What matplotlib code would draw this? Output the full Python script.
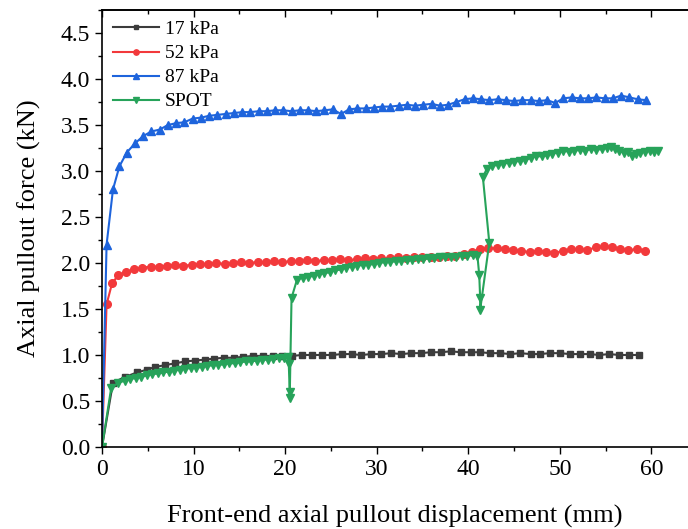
import matplotlib
matplotlib.use('Agg')
import matplotlib.pyplot as plt
from matplotlib.ticker import MultipleLocator

plt.rcParams['font.family'] = ['Liberation Serif', 'DejaVu Serif']

# 17 kPa
x17 = [0, 1.2, 2.5, 3.8, 4.9, 5.8, 6.9, 8.0, 9.1, 10.2, 11.3, 12.2, 13.3, 14.4, 15.4,
       16.5, 17.6, 18.7, 19.7, 20.8, 21.8, 22.9, 24.0, 25.1, 26.2, 27.3, 28.3, 29.4,
       30.5, 31.6, 32.7, 33.8, 34.8, 35.9, 37.0, 38.1, 39.2, 40.3, 41.3, 42.4, 43.5,
       44.6, 45.7, 46.8, 47.8, 48.9, 50.0, 51.1, 52.2, 53.3, 54.3, 55.4, 56.5, 57.6, 58.7]
y17 = [0, 0.70, 0.76, 0.81, 0.84, 0.87, 0.89, 0.91, 0.93, 0.94, 0.95, 0.96, 0.97, 0.97,
       0.98, 0.99, 0.99, 0.99, 0.99, 0.99, 1.00, 1.00, 1.00, 1.00, 1.01, 1.01, 1.00, 1.01,
       1.01, 1.02, 1.01, 1.02, 1.02, 1.03, 1.03, 1.04, 1.03, 1.03, 1.03, 1.02, 1.02, 1.01,
       1.02, 1.01, 1.01, 1.02, 1.02, 1.01, 1.01, 1.01, 1.00, 1.01, 1.00, 1.00, 1.00]

# 52 kPa
x52 = [0, 0.5, 1.1, 1.8, 2.6, 3.5, 4.4, 5.3, 6.2, 7.1, 8.0, 8.9, 9.8, 10.7, 11.6, 12.5,
       13.4, 14.3, 15.2, 16.1, 17.0, 17.9, 18.8, 19.7, 20.6, 21.5, 22.4, 23.3, 24.2, 25.1,
       26.0, 26.9, 27.8, 28.7, 29.6, 30.5, 31.4, 32.3, 33.2, 34.1, 35.0, 35.9, 36.8, 37.7,
       38.6, 39.5, 40.4, 41.3, 42.2, 43.1, 44.0, 44.9, 45.8, 46.7, 47.6, 48.5, 49.4, 50.3,
       51.2, 52.1, 53.0, 53.9, 54.8, 55.7, 56.6, 57.5, 58.4, 59.3]
y52 = [0, 1.55, 1.78, 1.87, 1.90, 1.93, 1.95, 1.96, 1.96, 1.97, 1.98, 1.97, 1.98, 1.99,
       1.99, 2.00, 1.99, 2.00, 2.01, 2.00, 2.01, 2.01, 2.02, 2.01, 2.02, 2.02, 2.03, 2.02,
       2.03, 2.03, 2.04, 2.03, 2.04, 2.05, 2.04, 2.05, 2.05, 2.06, 2.05, 2.06, 2.06, 2.07,
       2.06, 2.08, 2.08, 2.10, 2.12, 2.15, 2.16, 2.16, 2.15, 2.14, 2.13, 2.12, 2.13, 2.12,
       2.11, 2.13, 2.15, 2.15, 2.14, 2.17, 2.18, 2.17, 2.15, 2.14, 2.15, 2.13]

# 87 kPa
x87 = [0, 0.5, 1.2, 1.9, 2.7, 3.6, 4.5, 5.4, 6.3, 7.2, 8.1, 9.0, 9.9, 10.8, 11.7, 12.6,
       13.5, 14.4, 15.3, 16.2, 17.1, 18.0, 18.9, 19.8, 20.7, 21.6, 22.5, 23.4, 24.3, 25.2,
       26.1, 27.0, 27.9, 28.8, 29.7, 30.6, 31.5, 32.4, 33.3, 34.2, 35.1, 36.0, 36.9, 37.8,
       38.7, 39.6, 40.5, 41.4, 42.3, 43.2, 44.1, 45.0, 45.9, 46.8, 47.7, 48.6, 49.5, 50.4,
       51.3, 52.2, 53.1, 54.0, 54.9, 55.8, 56.7, 57.6, 58.5, 59.4]
y87 = [0, 2.20, 2.80, 3.05, 3.20, 3.30, 3.38, 3.43, 3.45, 3.50, 3.52, 3.53, 3.57, 3.58,
       3.60, 3.61, 3.62, 3.63, 3.64, 3.64, 3.65, 3.65, 3.66, 3.66, 3.65, 3.66, 3.66, 3.65,
       3.66, 3.67, 3.62, 3.67, 3.68, 3.68, 3.69, 3.70, 3.70, 3.71, 3.72, 3.71, 3.72, 3.73,
       3.71, 3.72, 3.75, 3.78, 3.79, 3.78, 3.77, 3.78, 3.77, 3.76, 3.77, 3.77, 3.76, 3.77,
       3.74, 3.79, 3.80, 3.79, 3.79, 3.80, 3.79, 3.79, 3.82, 3.80, 3.78, 3.77]

# SPOT (three load stages with unload/reload drops)
spot_x = ([0, 1.0, 1.8, 2.5, 3.1, 3.7, 4.3, 4.9, 5.5, 6.1, 6.7, 7.3, 7.9, 8.5, 9.1, 9.7,
           10.3, 10.9, 11.5, 12.1, 12.7, 13.3, 13.9, 14.5, 15.1, 15.7, 16.3, 16.9, 17.5,
           18.1, 18.7, 19.3, 19.9, 20.3, 20.4, 20.5, 20.5]
          + [20.7, 21.3, 21.9, 22.5, 23.1, 23.7, 24.3, 24.9, 25.5, 26.1, 26.7, 27.3, 27.9,
             28.5, 29.1, 29.7, 30.3, 30.9, 31.5, 32.1, 32.7, 33.3, 33.9, 34.5, 35.1, 35.7,
             36.3, 36.9, 37.5, 38.1, 38.7, 39.3, 39.9, 40.5, 41.0]
          + [41.2, 41.3, 41.3, 42.3, 41.6]
          + [42.0, 42.6, 43.2, 43.8, 44.4, 45.0, 45.6, 46.2, 46.8, 47.4, 48.0, 48.6, 49.2,
             49.8, 50.4, 51.0, 51.6, 52.2, 52.8, 53.4, 54.0, 54.6, 55.2, 55.6, 56.0, 56.5,
             57.0, 57.5, 57.9, 58.3, 58.8, 59.3, 59.8, 60.3, 60.7])
spot_y = ([0, 0.64, 0.70, 0.72, 0.74, 0.75, 0.76, 0.78, 0.79, 0.80, 0.81, 0.82, 0.83, 0.84,
           0.85, 0.86, 0.86, 0.87, 0.88, 0.89, 0.89, 0.90, 0.91, 0.91, 0.92, 0.93, 0.93,
           0.94, 0.95, 0.95, 0.96, 0.97, 0.97, 0.98, 0.90, 0.60, 0.53]
          + [1.62, 1.82, 1.84, 1.85, 1.86, 1.88, 1.89, 1.90, 1.92, 1.93, 1.95, 1.96, 1.97,
             1.98, 1.98, 1.99, 2.00, 2.01, 2.01, 2.02, 2.02, 2.03, 2.03, 2.04, 2.04, 2.05,
             2.05, 2.06, 2.06, 2.07, 2.07, 2.08, 2.08, 2.09, 2.08]
          + [1.87, 1.62, 1.49, 2.22, 2.93]
          + [3.02, 3.05, 3.07, 3.08, 3.09, 3.10, 3.11, 3.12, 3.14, 3.16, 3.16, 3.17, 3.19,
             3.20, 3.22, 3.21, 3.22, 3.23, 3.22, 3.24, 3.23, 3.24, 3.25, 3.26, 3.24, 3.22,
             3.20, 3.21, 3.16, 3.19, 3.20, 3.21, 3.22, 3.21, 3.22])

fig = plt.figure(figsize=(6.88, 5.29), dpi=100)
ax = fig.add_axes([102 / 688, 82 / 529, 586 / 688, 437 / 529])

ax.plot(x17, y17, '-s', color='#3c3c3c', lw=1.5, ms=5, label='17 kPa')
ax.plot(x52, y52, '-o', color='#f2393b', lw=1.5, ms=5.5, label='52 kPa')
ax.plot(x87, y87, '-^', color='#1e64dc', lw=1.5, ms=6, label='87 kPa')
ax.plot(spot_x, spot_y, '-v', color='#27a35a', lw=1.5, ms=6, label='SPOT')

ax.set_xlim(0, 64.0)
ax.set_ylim(0, 4.75)
ax.xaxis.set_major_locator(MultipleLocator(10))
ax.xaxis.set_minor_locator(MultipleLocator(5))
ax.yaxis.set_major_locator(MultipleLocator(0.5))
ax.yaxis.set_minor_locator(MultipleLocator(0.25))
ax.yaxis.set_major_formatter(plt.FormatStrFormatter('%.1f'))
ax.tick_params(which='major', direction='out', length=5, width=1, labelsize=17, colors='black')
ax.tick_params(which='minor', direction='out', length=3, width=1)
ax.spines['right'].set_visible(False)
for s in ['left', 'bottom', 'top']:
    ax.spines[s].set_linewidth(1.2)

top = ax.secondary_xaxis('top')
top.xaxis.set_major_locator(MultipleLocator(10))
top.xaxis.set_minor_locator(MultipleLocator(5))
top.tick_params(which='major', direction='in', length=5, width=1, labeltop=False)
top.tick_params(which='minor', direction='in', length=3, width=1)
top.spines['top'].set_linewidth(1.2)

ax.set_xlabel('Front-end axial pullout displacement (mm)', fontsize=19, labelpad=18)
ax.set_ylabel('Axial pullout force (kN)', fontsize=19, labelpad=14)

ax.legend(loc='upper left', frameon=False, fontsize=14, handlelength=2.4,
          handletextpad=0.3, labelspacing=0.33, borderaxespad=0.35, markerscale=0.7,
          borderpad=0.2)

fig.savefig('out.png', dpi=100)
